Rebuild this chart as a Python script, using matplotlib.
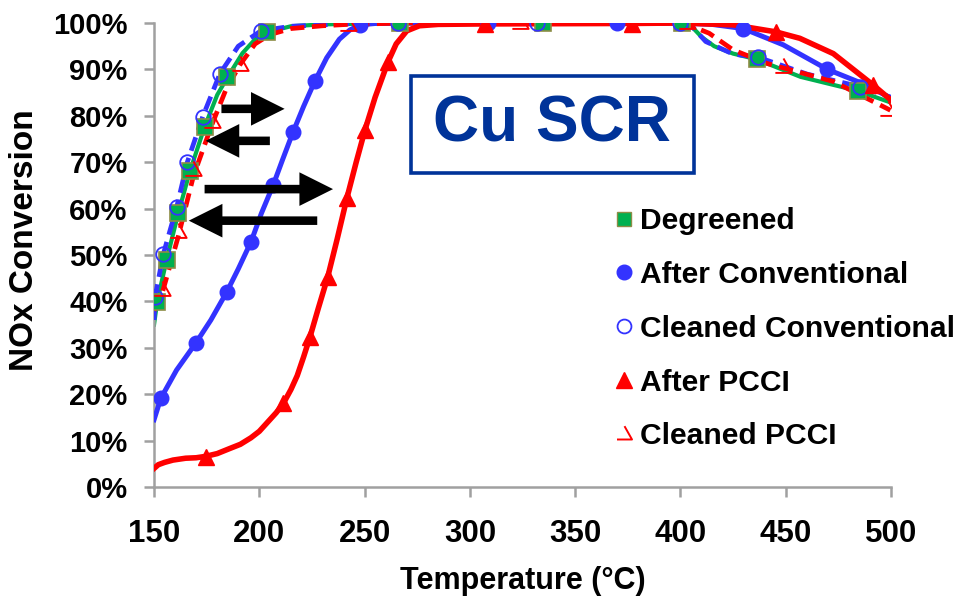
import matplotlib.pyplot as plt
from matplotlib.lines import Line2D
from matplotlib.path import Path
from matplotlib.patches import Rectangle

plt.rcParams['font.family'] = ['Liberation Sans', 'DejaVu Sans']
plt.rcParams['font.weight'] = 'bold'

# measured curves (temperature in C, NOx conversion in %)
degreened_T = [150, 151.5, 156, 161.5, 167, 174, 180, 185, 192, 198, 203.5, 215, 230, 267,
               335, 400, 405, 410, 416, 425, 436, 457, 484, 499]
degreened_Y = [35, 40, 49, 59, 68, 77.6, 84.5, 88.4, 93.5, 96.5, 98, 99.3, 99.7, 100,
               100, 100, 99.4, 97, 95, 93.4, 92.2, 88.4, 85.4, 83]

after_conv_T = [150, 153.2, 160.7, 169.8, 177, 184.5, 190, 196.1, 201, 206.6, 211, 216.1, 221,
                226.4, 232, 238, 243, 247.8, 255, 270, 308.7, 370, 400, 415, 429.8, 448.8,
                469.8, 488.4, 499]
after_conv_Y = [14.5, 19.1, 25.2, 31, 36, 42, 47, 52.9, 59, 65.1, 70.5, 76.6, 82,
                87.5, 92.5, 96.5, 98.5, 99.6, 99.9, 100, 100, 100, 100, 99.7, 98.8, 95.3,
                90, 86.6, 84]

cleaned_conv_T = [150, 150.5, 154.4, 160.8, 165.8, 173.1, 181.3, 190, 200.7, 215, 240, 266,
                  332, 400, 405, 412, 425, 437, 460, 485, 500]
cleaned_conv_Y = [36, 41, 50.2, 60.4, 70, 79.8, 89.1, 95, 98.3, 99.3, 99.8, 100,
                  100, 100, 99.5, 96, 93.3, 92.6, 89, 86.3, 84]

after_pcci_T = [150, 152, 155, 159, 165, 170, 174.5, 180, 186, 191, 196, 200, 204, 208, 211.4,
                215, 218, 221, 224.1, 228, 232.5, 237, 241.6, 246, 250.2, 255, 261.1, 265,
                270, 276, 285, 307, 377, 400, 425, 445.2, 456.7, 472.6, 491.6, 499.7]
after_pcci_Y = [4, 4.8, 5.3, 5.8, 6.2, 6.3, 6.6, 7.2, 8.3, 9.2, 10.6, 12, 14, 16, 18,
                21, 24, 28, 32.4, 38.5, 45.3, 53.5, 62.3, 70, 77, 84, 91.6, 95.5,
                98.3, 99.4, 99.7, 99.8, 99.9, 100, 99.6, 98.1, 96.7, 93.4, 86.6, 83.5]

cleaned_pcci_T = [150, 154, 161.5, 168.7, 177.4, 184, 190.8, 198, 205, 215, 230, 242, 270,
                  324, 403, 407, 413.6, 425, 441, 449, 472.6, 499.7]
cleaned_pcci_Y = [38, 42, 54, 67, 78, 85.5, 91, 95.5, 97.5, 98.8, 99.4, 99.7, 100,
                  100, 100, 99, 97.8, 94.2, 91.3, 90.3, 87.4, 81.2]

# sampled points shown with markers
degreened_pts_T = [151.6, 156, 161.5, 167.1, 174.2, 184.8, 203.5, 267, 334.7, 400.6, 436.2, 484.4]
degreened_pts_Y = [39.9, 48.9, 59, 68, 77.6, 88.4, 98.1, 100, 100, 100, 92.2, 85.4]
after_conv_pts_T = [153.2, 169.8, 184.5, 196.1, 206.6, 216.1, 226.4, 247.8, 308.7, 370, 429.8, 469.8]
after_conv_pts_Y = [19.1, 31, 42, 52.9, 65.1, 76.6, 87.5, 99.6, 100, 100, 98.8, 90]
cleaned_conv_pts_T = [150.5, 154.4, 160.8, 165.8, 173.1, 181.3, 200.7, 265.7, 331.7, 399.8, 436.9, 485.2]
cleaned_conv_pts_Y = [41, 50.2, 60.4, 70, 79.8, 89.1, 98.3, 100, 100, 100, 92.6, 86.3]
after_pcci_pts_T = [174.5, 211.4, 224.1, 232.5, 241.6, 250.2, 261.1, 307, 377.2, 445.2, 491.6]
after_pcci_pts_Y = [6.5, 18, 32.4, 45.3, 62.3, 77, 91.6, 99.7, 99.7, 98.1, 86.6]
cleaned_pcci_pts_T = [154, 161.5, 168.7, 177.4, 190.8, 242.3, 323.8, 402.9, 448.8, 498.7]
cleaned_pcci_pts_Y = [42.5, 55, 68.3, 78.7, 91, 99.6, 100, 100, 90.6, 81.2]

labels = ['Degreened', 'After Conventional', 'Cleaned Conventional', 'After PCCI', 'Cleaned PCCI']
x_ticks = [150, 200, 250, 300, 350, 400, 450, 500]
y_ticks = [0, 10, 20, 30, 40, 50, 60, 70, 80, 90, 100]

# shift arrows: (start T, end T, level %)
arrows = [(182, 212, 81.5), (205, 174.5, 74.6), (174, 235, 64.2), (227.5, 166.5, 57.4)]

GREEN = '#00B050'
BLUE = '#3333FF'
RED = '#FF0000'

# open triangle with its left side missing
half_tri = Path([(0, 1), (0.9, -0.6), (-0.9, -0.6)],
                [Path.MOVETO, Path.LINETO, Path.LINETO])

fig = plt.figure(figsize=(9.61, 5.99), dpi=100)
ax = fig.add_axes([0.1603, 0.187, 0.7669, 0.7746])

ax.plot(degreened_T, degreened_Y, color=GREEN, lw=3, zorder=2)
ax.plot(after_conv_T, after_conv_Y, color=BLUE, lw=3.6, zorder=3)
ax.plot(cleaned_conv_T, cleaned_conv_Y, color=BLUE, lw=3.4, ls=(0, (3, 1.6)), zorder=4)
ax.plot(after_pcci_T, after_pcci_Y, color=RED, lw=4, zorder=5)
ax.plot(cleaned_pcci_T, cleaned_pcci_Y, color=RED, lw=3.4, ls=(0, (3, 1.6)), zorder=6)

ax.plot(degreened_pts_T, degreened_pts_Y, ls='none', marker='s', ms=11.5,
        mfc=GREEN, mec='#8C8C46', mew=1.2, zorder=7)
ax.plot(after_conv_pts_T, after_conv_pts_Y, ls='none', marker='o', ms=10.5,
        mfc=BLUE, mec=BLUE, zorder=8)
ax.plot(cleaned_conv_pts_T, cleaned_conv_pts_Y, ls='none', marker='o', ms=10.5,
        mfc='none', mec=BLUE, mew=1.3, zorder=9)
ax.plot(after_pcci_pts_T, after_pcci_pts_Y, ls='none', marker='^', ms=12,
        mfc=RED, mec=RED, zorder=10)
ax.plot(cleaned_pcci_pts_T, cleaned_pcci_pts_Y, ls='none', marker=half_tri, ms=13,
        mfc='none', mec=RED, mew=1.4, zorder=11)

for t0, t1, lev in arrows:
    ax.annotate('', xy=(t1, lev), xytext=(t0, lev), zorder=12,
                arrowprops=dict(arrowstyle='simple,head_length=1.1,head_width=1.1,tail_width=0.28',
                                color='black', lw=0, mutation_scale=22,
                                shrinkA=0, shrinkB=0))

ax.set_xlim(150, 500)
ax.set_ylim(0, 100)
ax.set_xticks(x_ticks)
ax.set_yticks(y_ticks)
ax.set_yticklabels(['%d%%' % v for v in y_ticks])
ax.tick_params(axis='both', direction='out', length=7, width=1.8, color='#A0A0A0')
ax.tick_params(axis='y', labelsize=21, pad=12)
ax.tick_params(axis='x', labelsize=22.5, pad=16)
for side in ['top', 'right']:
    ax.spines[side].set_visible(False)
for side in ['left', 'bottom']:
    ax.spines[side].set_color('#A0A0A0')
    ax.spines[side].set_linewidth(1.8)

ax.set_xlabel('Temperature (°C)', fontsize=22, fontweight='bold')
ax.set_ylabel('NOx Conversion', fontsize=24, fontweight='bold')
ax.xaxis.set_label_coords(0.5, -0.17)
ax.yaxis.set_label_coords(-0.155, 0.532)

# boxed title inside the plot
ax.add_patch(Rectangle((0.349, 0.676), 0.383, 0.21, transform=ax.transAxes,
                       fill=False, ec='#003399', lw=2.6, zorder=13))
ax.text(0.5405, 0.781, 'Cu SCR', transform=ax.transAxes, ha='center', va='center',
        fontsize=46, fontweight='bold', color='#003399', zorder=14)

handles = [
    Line2D([], [], ls='none', marker='s', ms=10, mfc=GREEN, mec='#8C8C46', mew=1),
    Line2D([], [], ls='none', marker='o', ms=10.5, mfc=BLUE, mec=BLUE),
    Line2D([], [], ls='none', marker='o', ms=10, mfc='none', mec=BLUE, mew=1.3),
    Line2D([], [], ls='none', marker='^', ms=11, mfc=RED, mec=RED),
    Line2D([], [], ls='none', marker=half_tri, ms=12, mfc='none', mec=RED, mew=1.4),
]
leg = ax.legend(handles, labels, loc='upper left', bbox_to_anchor=(0.61, 0.629),
                frameon=False, prop={'size': 21.6, 'weight': 'bold'},
                handlelength=0.55, handletextpad=0.25, labelspacing=0.86, borderaxespad=0)
leg.set_zorder(15)

fig.savefig('out.png', dpi=100)
